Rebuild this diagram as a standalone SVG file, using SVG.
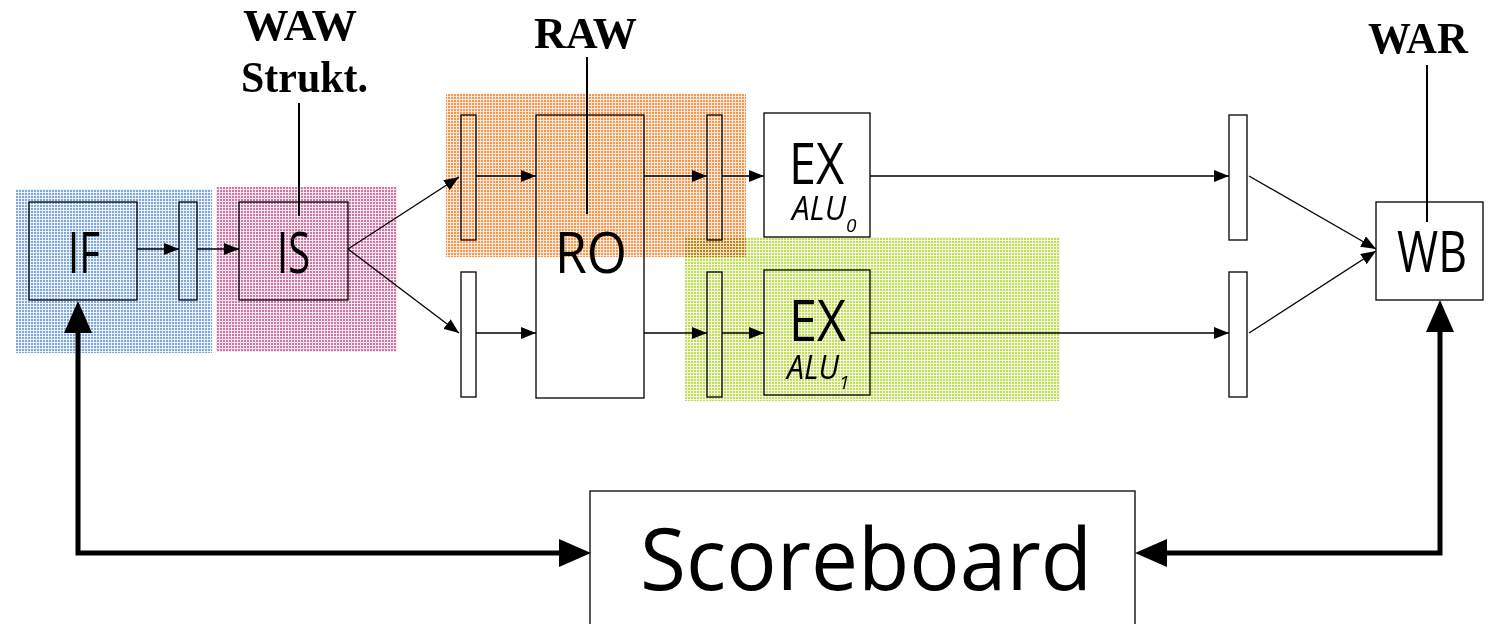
<svg xmlns="http://www.w3.org/2000/svg" width="1488" height="624" viewBox="0 0 1488 624">
  <defs>
    <style>
      .box { fill: #ffffff; stroke: #000000; stroke-width: 1.3; }
      .reg { fill: #ffffff; stroke: #000000; stroke-width: 1.3; }
      .lbl { font-family: "Open Sans", "Noto Sans", "DejaVu Sans", sans-serif; fill: #000000; }
      .stage { font-size: 57px; }
      .alu { font-size: 32px; font-style: italic; }
      .sub { font-size: 19px; font-style: italic; }
      .haz { font-family: "Liberation Serif", "Times New Roman", serif; font-weight: bold; font-size: 44px; fill: #000000; }
      .wire { fill: none; stroke: #000000; stroke-width: 1.3; }
      .tick { fill: none; stroke: #000000; stroke-width: 2; }
      .bus { fill: none; stroke: #000000; stroke-width: 5; }
      .zone { stroke: none; mix-blend-mode: multiply; }
    </style>
    <marker id="tip" markerUnits="userSpaceOnUse" markerWidth="16" markerHeight="12" refX="15" refY="6" orient="auto">
      <path d="M0,0 L15,6 L0,12 z" fill="#000000"/>
    </marker>
    <marker id="bigtip" markerUnits="userSpaceOnUse" markerWidth="32" markerHeight="28" refX="0" refY="14" orient="auto-start-reverse">
      <path d="M0,0 L32,14 L0,28 z" fill="#000000"/>
    </marker>
    <!-- fine woven texture for the shaded stage zones -->
    <pattern id="weaveBlue" width="3" height="3" patternUnits="userSpaceOnUse">
      <rect width="3" height="3" fill="#80a8d8"/>
      <path d="M0,0.5 H3 M0.5,0 V3" stroke="#eaf1fa" stroke-width="1"/>
    </pattern>
    <pattern id="weavePink" width="3" height="3" patternUnits="userSpaceOnUse">
      <rect width="3" height="3" fill="#cd78a4"/>
      <path d="M0,0.5 H3 M0.5,0 V3" stroke="#f8e6ef" stroke-width="1"/>
    </pattern>
    <pattern id="weaveOrange" width="3" height="3" patternUnits="userSpaceOnUse">
      <rect width="3" height="3" fill="#f8954c"/>
      <path d="M0,0.5 H3 M0.5,0 V3" stroke="#feeadb" stroke-width="1"/>
    </pattern>
    <pattern id="weaveGreen" width="3" height="3" patternUnits="userSpaceOnUse">
      <rect width="3" height="3" fill="#c0dd5c"/>
      <path d="M0,0.5 H3 M0.5,0 V3" stroke="#f1f8dc" stroke-width="1"/>
    </pattern>
  </defs>

  <rect width="1488" height="624" fill="#ffffff"/>

  <!-- pipeline stages -->
  <g id="node-if">
    <rect class="box" x="29" y="202" width="108" height="98"/>
    <text class="lbl stage" x="68" y="273" textLength="32" lengthAdjust="spacingAndGlyphs">IF</text>
  </g>
  <g id="node-reg-if">
    <rect class="reg" x="179" y="202" width="18" height="98"/>
  </g>
  <g id="node-is">
    <rect class="box" x="239" y="202" width="109" height="98"/>
    <text class="lbl stage" x="277" y="273" textLength="33" lengthAdjust="spacingAndGlyphs">IS</text>
  </g>
  <g id="node-reg-is0">
    <rect class="reg" x="461" y="115" width="15" height="125"/>
  </g>
  <g id="node-reg-is1">
    <rect class="reg" x="461" y="272" width="15" height="125"/>
  </g>
  <g id="node-ro">
    <rect class="box" x="536" y="115" width="108" height="283"/>
    <text class="lbl stage" x="555" y="273" textLength="72" lengthAdjust="spacingAndGlyphs">RO</text>
  </g>
  <g id="node-reg-ro0">
    <rect class="reg" x="707" y="115" width="15" height="125"/>
  </g>
  <g id="node-reg-ro1">
    <rect class="reg" x="707" y="272" width="15" height="125"/>
  </g>
  <g id="node-ex0">
    <rect class="box" x="764" y="113" width="106" height="124"/>
    <text class="lbl stage" x="789" y="184" textLength="55" lengthAdjust="spacingAndGlyphs">EX</text>
    <text class="lbl alu" x="792" y="220"><tspan textLength="54" lengthAdjust="spacingAndGlyphs">ALU</tspan><tspan class="sub" dy="12">0</tspan></text>
  </g>
  <g id="node-ex1">
    <rect class="box" x="764" y="270" width="106" height="125"/>
    <text class="lbl stage" x="789" y="341" textLength="57" lengthAdjust="spacingAndGlyphs">EX</text>
    <text class="lbl alu" x="787" y="379"><tspan textLength="52" lengthAdjust="spacingAndGlyphs">ALU</tspan><tspan class="sub" dy="10">1</tspan></text>
  </g>
  <g id="node-reg-ex0">
    <rect class="reg" x="1229" y="115" width="18" height="125"/>
  </g>
  <g id="node-reg-ex1">
    <rect class="reg" x="1229" y="272" width="18" height="125"/>
  </g>
  <g id="node-wb">
    <rect class="box" x="1376" y="202" width="107" height="98"/>
    <text class="lbl stage" x="1397" y="272" textLength="70" lengthAdjust="spacingAndGlyphs">WB</text>
  </g>
  <g id="node-scoreboard">
    <rect class="box" x="590" y="491" width="545" height="150"/>
    <text class="lbl" x="640" y="590" font-size="86" textLength="452" lengthAdjust="spacingAndGlyphs">Scoreboard</text>
  </g>

  <!-- hazard check labels -->
  <g id="node-waw">
    <text class="haz" x="243" y="40" textLength="114" lengthAdjust="spacingAndGlyphs">WAW</text>
    <text class="haz" x="241" y="92" textLength="127" lengthAdjust="spacingAndGlyphs">Strukt.</text>
  </g>
  <g id="node-raw">
    <text class="haz" x="534" y="48" textLength="103" lengthAdjust="spacingAndGlyphs">RAW</text>
  </g>
  <g id="node-war">
    <text class="haz" x="1368" y="53" textLength="100" lengthAdjust="spacingAndGlyphs">WAR</text>
  </g>

  <!-- connectors -->
  <g id="connectors">
    <path class="wire" d="M137,249 H179" marker-end="url(#tip)"/>
    <path class="wire" d="M197,249 H239" marker-end="url(#tip)"/>
    <path class="wire" d="M348,249 L459,177" marker-end="url(#tip)"/>
    <path class="wire" d="M348,249 L459,333" marker-end="url(#tip)"/>
    <path class="wire" d="M476,176 H536" marker-end="url(#tip)"/>
    <path class="wire" d="M644,176 H707" marker-end="url(#tip)"/>
    <path class="wire" d="M722,176 H764" marker-end="url(#tip)"/>
    <path class="wire" d="M870,176 H1229" marker-end="url(#tip)"/>
    <path class="wire" d="M476,333 H536" marker-end="url(#tip)"/>
    <path class="wire" d="M644,333 H707" marker-end="url(#tip)"/>
    <path class="wire" d="M722,333 H764" marker-end="url(#tip)"/>
    <path class="wire" d="M870,333 H1229" marker-end="url(#tip)"/>
    <path class="wire" d="M1249,176 L1376,249" marker-end="url(#tip)"/>
    <path class="wire" d="M1249,333 L1376,251" marker-end="url(#tip)"/>
    <!-- hazard check ticks -->
    <path class="tick" d="M299,103 V216"/>
    <path class="tick" d="M587,57 V214"/>
    <path class="tick" d="M1427,65 V222"/>
    <!-- scoreboard buses -->
    <path class="bus" d="M78,333 V553 H559" marker-start="url(#bigtip)" marker-end="url(#bigtip)"/>
    <path class="bus" d="M1440,332 V553 H1167" marker-start="url(#bigtip)" marker-end="url(#bigtip)"/>
  </g>

  <!-- shaded stage zones -->
  <rect class="zone" x="16" y="189" width="196" height="164" fill="url(#weaveBlue)"/>
  <rect class="zone" x="216" y="187" width="181" height="165" fill="url(#weavePink)"/>
  <rect class="zone" x="685" y="237" width="375" height="164" fill="url(#weaveGreen)"/>
  <rect class="zone" x="446" y="94" width="300" height="163" fill="url(#weaveOrange)"/>
</svg>
